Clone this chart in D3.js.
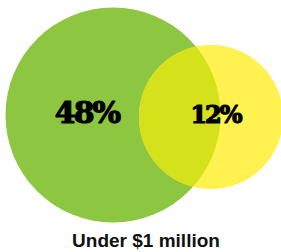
<!DOCTYPE html>
<html>
<head>
<meta charset="utf-8">
<script src="https://cdn.jsdelivr.net/npm/d3@7"></script>
<style>
  html, body { margin: 0; padding: 0; background: #fff; }
  svg { display: block; }
</style>
</head>
<body>
<svg id="chart" width="281" height="252"></svg>
<script>
// Data
const setShares = [48, 12];
const setSizes = [100, 45];   // relative circle area
const caption = "Under $1 million";

const width = 281, height = 252;
const svg = d3.select("#chart");

const r = d3.scaleSqrt().domain([0, 100]).range([0, 107.5]);
const cy = 115;
const x = d3.scaleLinear().domain([0, 1]).range([113, 211]);

const circles = setSizes.map((s, i) => ({ cx: x(i), cy: i === 0 ? cy : cy + 2, r: r(s), share: setShares[i] }));
const colors = ["#8dc641", "#fff150"];
const overlapColor = "#d5e11b";

svg.append("defs").append("clipPath").attr("id", "clipA")
  .append("circle")
    .attr("cx", circles[0].cx).attr("cy", circles[0].cy).attr("r", circles[0].r);

svg.selectAll("circle.set")
  .data(circles)
  .join("circle")
    .attr("class", "set")
    .attr("cx", d => d.cx)
    .attr("cy", d => d.cy)
    .attr("r", d => d.r)
    .attr("fill", (d, i) => colors[i]);

// overlap region
svg.append("circle")
  .attr("cx", circles[1].cx).attr("cy", circles[1].cy).attr("r", circles[1].r)
  .attr("clip-path", "url(#clipA)")
  .attr("fill", overlapColor);

const labelPos = [{ x: 87, y: 123, size: 30, ls: -2 }, { x: 215.5, y: 123, size: 24, ls: -2 }];

svg.selectAll("text.share")
  .data(circles)
  .join("text")
    .attr("class", "share")
    .attr("x", (d, i) => labelPos[i].x)
    .attr("y", (d, i) => labelPos[i].y)
    .attr("text-anchor", "middle")
    .attr("font-family", "DejaVu Serif")
    .attr("font-weight", "bold")
    .attr("font-size", (d, i) => labelPos[i].size)
    .attr("letter-spacing", (d, i) => labelPos[i].ls)
    .attr("fill", "#000")
    .attr("stroke", "#000")
    .attr("stroke-width", 1.2)
    .attr("stroke-linejoin", "round")
    .text(d => d.share + "%");

svg.append("text")
  .attr("x", 146)
  .attr("y", 247)
  .attr("text-anchor", "middle")
  .attr("font-family", "Liberation Sans, Arial, sans-serif")
  .attr("font-weight", "bold")
  .attr("font-size", 19)
  .attr("fill", "#111")
  .text(caption);
</script>
</body>
</html>
